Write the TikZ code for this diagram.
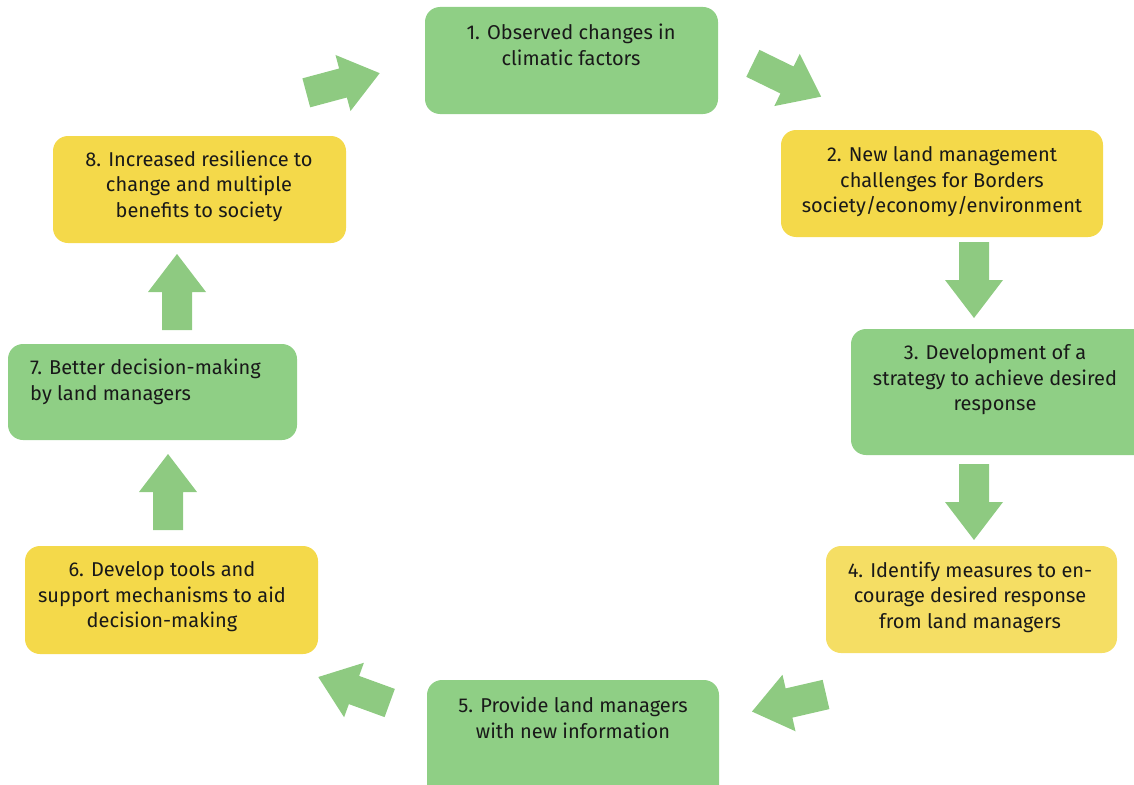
\documentclass[tikz,border=0pt]{standalone}
\usepackage{fontspec}
\setmainfont{Fira Sans}
\definecolor{boxgreen}{RGB}{143,207,133}
\definecolor{boxyellow}{RGB}{244,217,74}
\definecolor{boxyellowlt}{RGB}{245,222,100}
\definecolor{arrgreen}{RGB}{132,198,118}
\definecolor{txt}{RGB}{25,25,25}
\tikzset{
  stepbox/.style={rounded corners=15pt, draw=none},
  gbox/.style={stepbox, fill=boxgreen},
  ybox/.style={stepbox, fill=boxyellow},
  lbl/.style={text=txt, align=center, inner sep=0pt, font=\fontsize{20}{25.5}\selectfont},
  blockarrow/.style={fill=arrgreen, draw=none, fill opacity=0.92},
}
\newcommand{\blockarr}[3]{%
  \fill[blockarrow, shift={(#1,#2)}, rotate=#3]
    (-38,-15) -- (0,-15) -- (0,-29) -- (38,0) -- (0,29) -- (0,15) -- (-38,15) -- cycle;}
\begin{document}
\begin{tikzpicture}[x=1pt,y=-1pt]
\useasboundingbox (0,0) rectangle (1134,784);
% boxes
\fill[gbox] (425,7) rectangle (718,114);
\fill[ybox] (781,130) rectangle (1103,237);
\fill[gbox] (851,329) rectangle (1150,455);
\fill[boxyellowlt, rounded corners=15pt] (826,546) rectangle (1117,653);
\fill[gbox] (427,680) rectangle (719,800);
\fill[ybox] (25,546) rectangle (318,654);
\fill[gbox] (8,344) rectangle (297,440);
\fill[ybox] (53,136) rectangle (346,243);
% texts
\node[lbl] (n1) at (571,45) {1. Observed changes in\\climatic factors};
\node[lbl] (n2) at (942,182) {2. New land management\\challenges for Borders\\society/economy/environment};
\node[lbl] (n3) at (995,380) {3. Development of a\\strategy to achieve desired\\response};
\node[lbl] (n4) at (970,597) {4. Identify measures to en-\\courage desired response\\from land managers};
\node[lbl] (n5) at (573,718) {5. Provide land managers\\with new information};
\node[lbl] (n6) at (162,597) {6. Develop tools and\\support mechanisms to aid\\decision-making};
\node[lbl, align=left, anchor=west] (n7) at (30,382) {7. Better decision-making\\by land managers};
\node[lbl] (n8) at (199,186) {8. Increased resilience to\\change and multiple\\benefits to society};
% arrows
\blockarr{343}{83}{15}
\blockarr{787}{80}{-26}
\blockarr{974}{280}{-90}
\blockarr{974}{502}{-90}
\blockarr{789}{703}{193}
\blockarr{354}{690}{160}
\blockarr{168}{492}{90}
\blockarr{177}{292}{90}
\end{tikzpicture}
\end{document}
